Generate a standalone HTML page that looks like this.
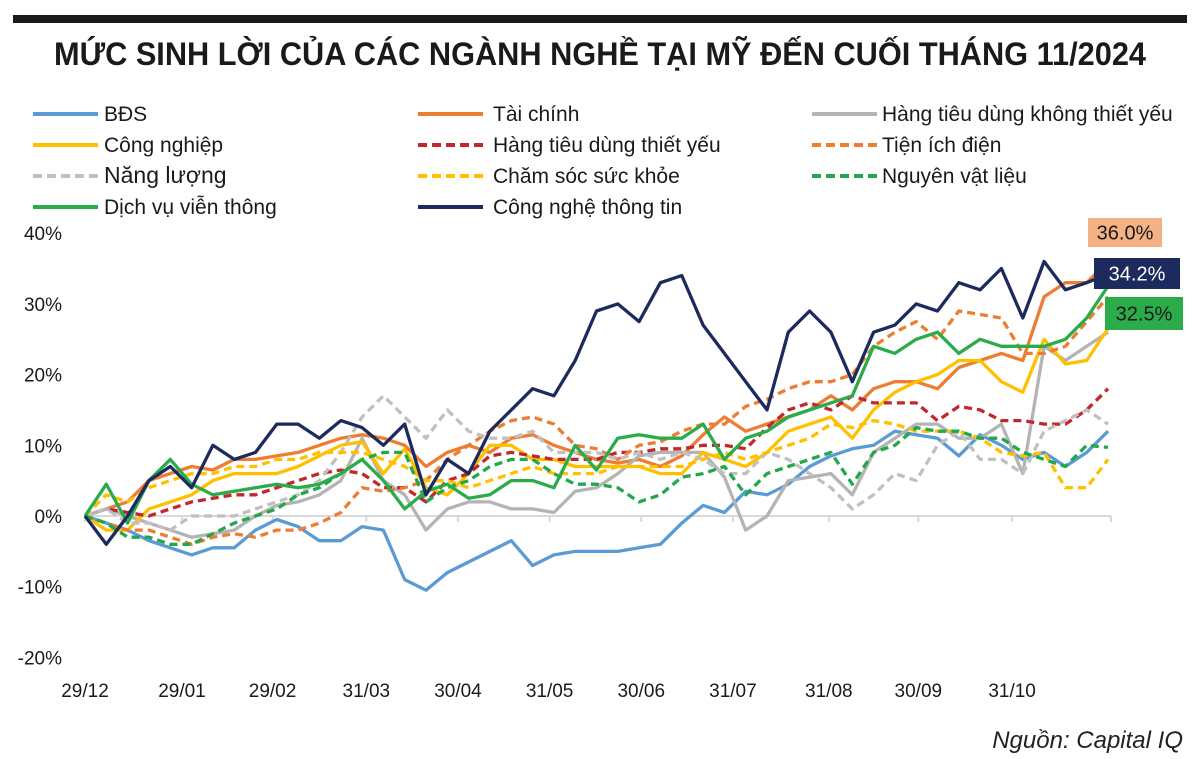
<!DOCTYPE html>
<html><head><meta charset="utf-8">
<style>
body{margin:0;background:#fff;}
#wrap{position:relative;width:1200px;height:759px;overflow:hidden;background:#fff;font-family:"Liberation Sans",sans-serif;}
svg text{font-family:"Liberation Sans",sans-serif;}
</style></head>
<body>
<div id="wrap">
<svg id="chart" width="1200" height="759" xmlns="http://www.w3.org/2000/svg">
  <rect x="13" y="15" width="1174" height="8" fill="#1a1a1a"/>
  <text x="600" y="65" text-anchor="middle" font-size="32" font-weight="bold" fill="#1a1a1a" textLength="1092" lengthAdjust="spacingAndGlyphs">MỨC SINH LỜI CỦA CÁC NGÀNH NGHỀ TẠI MỸ ĐẾN CUỐI THÁNG 11/2024</text>
  <g id="legend"></g>
  <g id="axes"></g>
  <g id="series"></g>
  <g id="labels"></g>
  <text x="1183" y="748" text-anchor="end" font-size="24" font-style="italic" fill="#222">Nguồn: Capital IQ</text>
</svg>
</div>
<script>
const yTicks = [40, 30, 20, 10, 0, -10, -20];
const xTickLabels = ["29/12","29/01","29/02","31/03","30/04","31/05","30/06","31/07","31/08","30/09","31/10"];
const xTickWeeks = [0, 4.55, 8.8, 13.2, 17.5, 21.8, 26.1, 30.4, 34.9, 39.1, 43.5];
const seriesNames = ["BĐS","Tài chính","Hàng tiêu dùng không thiết yếu","Công nghiệp","Hàng tiêu dùng thiết yếu","Tiện ích điện","Năng lượng","Chăm sóc sức khỏe","Nguyên vật liệu","Dịch vụ viễn thông","Công nghệ thông tin"];
const realEstate = [0,-1,-2,-3.5,-4.5,-5.5,-4.5,-4.5,-2,-0.5,-1.5,-3.5,-3.5,-1.5,-2,-9,-10.5,-8,-6.5,-5,-3.5,-7,-5.5,-5,-5,-5,-4.5,-4,-1,1.5,0.5,3.5,3,4.5,7,8.5,9.5,10,12,11.5,11,8.5,11.5,10,8,9,7,9,12];
const financials = [0,1,2,5,6,7,6.5,8,8,8.5,9,10,11,11.5,11,10,7,9,10,9,11,11.5,10,9,8,7.5,8,7,8.5,11.5,14,12,13,14,15,17,15,18,19,19,18,21,22,23,22,31,33,33,36];
const discretionary = [0,1,0,-1,-2,-3,-2.5,-2,0,1.5,2,3,5,11,5,3,-2,1,2,2,1,1,0.5,3.5,4,6,8.5,9,9,9,5.5,-2,0,5,5.5,6,3,9,11,13,13,11,11,13,6,24,22,24,26];
const industrials = [0,-2,-2,1,2,3,5,6,6,6,7,8.5,10,10.5,6,9.5,4,3,6,10,10,8,8,7,7,7,7,6,6,9,8,7,9,12,13,14,11,15,17.5,19,20,22,22,19,17.5,25,21.5,22,26.5];
const staples = [0,1,0.5,0,1,2,2.5,3,3,4,5,6,6.5,6,4,4,2,5,6,8.5,9,8.5,8,8,8,9,9,9.5,9.5,10,10,9.5,12.5,15,16,15,17,16,16,16,13.5,15.5,15,13.5,13.5,13,13,15,18];
const utilities = [0,-1,-2,-2,-3,-4,-3,-2.5,-3,-2,-2,-1,0.5,4,3.5,4,5,8,10,12,13.5,14,13,10,9.5,8,10,10.5,12,13,13,15.5,16.5,18,19,19,20,24,26,27.5,25,29,28.5,28,23,23,24,27.5,31];
const energy = [0,1,-1,-1,-2,0,0,0,1,2,3,5,9,14,17,14,11,15,12,11,11,12,9,9,9,8,9,8,9,8,6,6,9,8,6,4,1,3,6,5,10,12,8,8,6,12,13.5,15,13];
const healthCare = [0,3,2,4,5,6,6,7,7,8,8,9,9,9,8,7,5,5,4,5,6,7,6,6,6,7,7,7,7,8,9,8,9,10,11,13,12.5,13.5,13,12,12,12,11,9,8.5,9,4,4,8];
const materials = [0,-1,-3,-3,-4,-4,-2.5,-1,0,1,3,4,6,8,9,9,2,4,5,7,8,8,6,4.5,4.5,4,2,3,5.5,6,7,3,6,7,8,9,4.5,9,10,12.5,12,12,11,11,9,8,7,10,9.7];
const communication = [0,4.5,-1,5,8,4.5,3,3.5,4,4.5,4,4.5,6,8,5,1,3.5,4.5,2.5,3,5,5,4,10,6.5,11,11.5,11,11,13,8,11,12,14,15,16,17,24,23,25,26,23,25,24,24,24,25,28,32.5];
const infoTech = [0,-4,0,5,7,4,10,8,9,13,13,11,13.5,12.5,10,13,3,8,6,12,15,18,17,22,29,30,27.5,33,34,27,23,19,15,26,29,26,19,26,27,30,29,33,32,35,28,36,32,33,34.2];
const endLabelValues = ["36.0%","34.2%","32.5%"];

const X0=85, X1=1108, NW=48;
const Y0=516, PX=7.07;
function xs(w){return X0+(X1-X0)*w/NW;}
function ys(v){return Y0-v*PX;}
const NS="http://www.w3.org/2000/svg";
function mk(tag,attrs,parent){const e=document.createElementNS(NS,tag);for(const k in attrs)e.setAttribute(k,attrs[k]);parent.appendChild(e);return e;}

const styles = [
 {data:realEstate,color:"#5b9bd5",dash:null,name:"series-real-estate"},
 {data:financials,color:"#ed7d31",dash:null,name:"series-financials"},
 {data:discretionary,color:"#b4b4b4",dash:null,name:"series-consumer-discretionary"},
 {data:industrials,color:"#ffc000",dash:null,name:"series-industrials"},
 {data:staples,color:"#c0282d",dash:"8,5",name:"series-consumer-staples"},
 {data:utilities,color:"#ed7d31",dash:"8,5",name:"series-utilities"},
 {data:energy,color:"#c0c0c0",dash:"8,5",name:"series-energy"},
 {data:healthCare,color:"#ffc000",dash:"8,5",name:"series-health-care"},
 {data:materials,color:"#22a84a",dash:"8,5",name:"series-materials"},
 {data:communication,color:"#2bab4a",dash:null,name:"series-communication"},
 {data:infoTech,color:"#1c2a5e",dash:null,name:"series-info-tech"}
];

const ax=document.getElementById('axes');
yTicks.forEach(t=>{
  const e=mk('text',{x:62,y:ys(t)+7,'text-anchor':'end','font-size':19,fill:'#1a1a1a'},ax);
  
  
  e.textContent=t+"%";
});
const zl=mk('line',{x1:X0,y1:Y0,x2:1111,y2:Y0,stroke:'#d9d9d9','stroke-width':2},ax);


xTickLabels.forEach((lab,i)=>{
  const x=xs(xTickWeeks[i]);
  const tk=mk('line',{x1:x,y1:Y0,x2:x,y2:Y0+6,stroke:'#d9d9d9','stroke-width':2},ax);
  
  
  const e=mk('text',{x:x,y:697,'text-anchor':'middle','font-size':19,fill:'#1a1a1a'},ax);
  
  
  e.textContent=lab;
});
const endTick=mk('line',{x1:1111,y1:Y0,x2:1111,y2:Y0+6,stroke:'#d9d9d9','stroke-width':2},ax);



const sg=document.getElementById('series');
styles.forEach(s=>{
  const d=s.data.map((v,i)=>(i?'L':'M')+xs(i).toFixed(1)+','+ys(v).toFixed(1)).join(' ');
  const p=mk('path',{d:d,fill:'none',stroke:s.color,'stroke-width':3.3,'stroke-linejoin':'round'},sg);
  if(s.dash)p.setAttribute('stroke-dasharray',s.dash);
  
  
});

const lg=document.getElementById('legend');
const legPos=[[33,104],[418,493],[812,882]];
const legendOrder=[0,1,2,3,4,5,6,7,8,9,10];
legendOrder.forEach((si,k)=>{
  const row=Math.floor(k/3), col=k%3;
  const y=114+row*31;
  const s=styles[si];
  const [lx,tx]=legPos[col];
  const ln=mk('line',{x1:lx,y1:y,x2:lx+65,y2:y,stroke:s.color,'stroke-width':4},lg);
  if(s.dash)ln.setAttribute('stroke-dasharray','9,5');
  
  
  const t=mk('text',{x:tx,y:y+7,'font-size':si===6?23:21,fill:'#1a1a1a'},lg);
  
  
  t.textContent=seriesNames[si];
});

const lb=document.getElementById('labels');
const boxes=[{x:1088,y:218,w:74,h:29,bg:"#f4b183",fg:"#1a1a1a"},{x:1094,y:258,w:86,h:31,bg:"#1c2a5e",fg:"#ffffff"},{x:1105,y:297,w:78,h:33,bg:"#2bab4a",fg:"#1a1a1a"}];
boxes.forEach((b,i)=>{
  const r=mk('rect',{x:b.x,y:b.y,width:b.w,height:b.h,fill:b.bg},lb);
  
  
  const t=mk('text',{x:b.x+b.w/2,y:b.y+b.h/2+7,'text-anchor':'middle','font-size':20,fill:b.fg},lb);
  
  
  t.textContent=endLabelValues[i];
});
</script>
</body></html>
